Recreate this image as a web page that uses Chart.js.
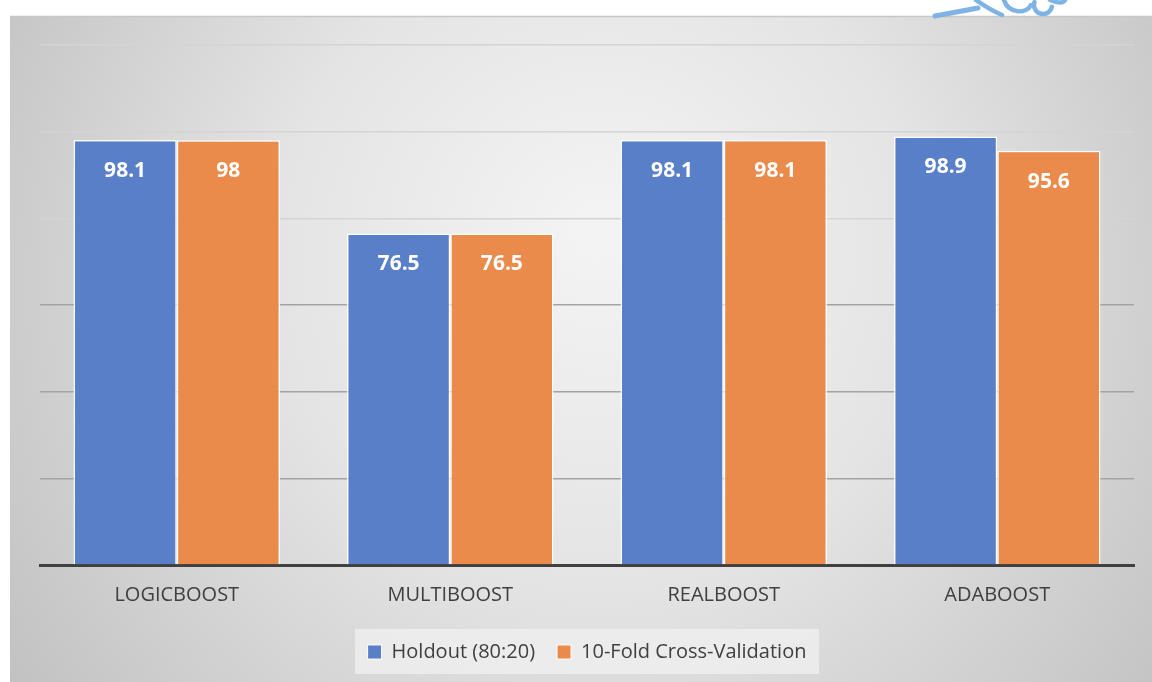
<!DOCTYPE html>
<html>
<head>
<meta charset="utf-8">
<script src="https://cdn.jsdelivr.net/npm/chart.js@4.4.0/dist/chart.umd.min.js"></script>
<style>
  html, body { margin: 0; padding: 0; background: #ffffff; }
  #wrap { width: 1152px; height: 682px; }
</style>
</head>
<body>
<div id="wrap"><canvas id="c" width="1152" height="682"></canvas></div>
<script>
const categories = ['LOGICBOOST', 'MULTIBOOST', 'REALBOOST', 'ADABOOST'];
const holdout = [98.1, 76.5, 98.1, 98.9];
const crossValidation = [98, 76.5, 98.1, 95.6];
const seriesNames = ['Holdout (80:20)', '10-Fold Cross-Validation'];

const FONT = "'Open Sans', 'Liberation Sans', sans-serif";

// Panel background with soft radial shading, plus the blue pen sketch above it
const panelBackground = {
  id: 'panelBackground',
  beforeDraw(chart) {
    const ctx = chart.ctx;
    ctx.save();
    ctx.fillStyle = '#ffffff';
    ctx.fillRect(0, 0, chart.width, chart.height);
    const x0 = 10, y0 = 16, w = chart.width - x0, h = chart.height - y0;
    const g = ctx.createRadialGradient(600, 230, 20, 600, 300, 700);
    g.addColorStop(0, '#f3f3f3');
    g.addColorStop(0.45, '#e4e4e4');
    g.addColorStop(1, '#c2c2c2');
    ctx.fillStyle = g;
    ctx.fillRect(x0, y0, w, h);
    ctx.strokeStyle = '#c8c8c8';
    ctx.lineWidth = 1.5;
    ctx.beginPath();
    ctx.moveTo(x0, y0 + 0.5);
    ctx.lineTo(chart.width, y0 + 0.5);
    ctx.stroke();

    // legend backdrop
    const lg = chart.legend;
    if (lg) {
      ctx.fillStyle = 'rgba(236,236,236,0.95)';
      ctx.fillRect(355, lg.top + 9, 464, 45);
    }
    ctx.restore();
  },
  afterDraw(chart) {
    const ctx = chart.ctx;
    ctx.save();
    ctx.strokeStyle = '#7fb2e5';
    ctx.lineCap = 'round';
    ctx.lineWidth = 5;
    ctx.beginPath();
    ctx.moveTo(935, 16); ctx.lineTo(978, 8);
    ctx.stroke();
    ctx.lineWidth = 4.5;
    ctx.beginPath();
    ctx.moveTo(976, 0); ctx.quadraticCurveTo(990, 10, 1002, 15);
    ctx.stroke();
    ctx.beginPath();
    ctx.moveTo(1004, 0); ctx.bezierCurveTo(1008, 13, 1026, 15, 1031, 5);
    ctx.stroke();
    ctx.beginPath();
    ctx.arc(1043, 5, 9, 0.2, Math.PI * 1.1);
    ctx.stroke();
    ctx.beginPath();
    ctx.moveTo(1050, 0); ctx.quadraticCurveTo(1062, 5, 1065, 0);
    ctx.stroke();
    ctx.restore();
  }
};

// White value labels inside the top of each bar
const valueLabels = {
  id: 'valueLabels',
  afterDatasetsDraw(chart) {
    const ctx = chart.ctx;
    ctx.save();
    ctx.fillStyle = '#ffffff';
    ctx.font = "bold 21px " + FONT;
    ctx.textAlign = 'center';
    ctx.textBaseline = 'middle';
    chart.data.datasets.forEach((ds, i) => {
      chart.getDatasetMeta(i).data.forEach((bar, j) => {
        ctx.fillText(String(ds.data[j]), bar.x, bar.y + 31);
      });
    });
    ctx.restore();
  }
};

new Chart(document.getElementById('c'), {
  type: 'bar',
  data: {
    labels: categories,
    datasets: [
      {
        label: seriesNames[0],
        data: holdout,
        backgroundColor: '#5a7fc9',
        borderColor: 'rgba(255,255,255,0.9)',
        borderWidth: { top: 1.5, left: 1.5, right: 1.5, bottom: 0 },
        categoryPercentage: 0.755,
        barPercentage: 1.0
      },
      {
        label: seriesNames[1],
        data: crossValidation,
        backgroundColor: '#ea8b4b',
        borderColor: 'rgba(255,255,255,0.9)',
        borderWidth: { top: 1.5, left: 1.5, right: 1.5, bottom: 0 },
        categoryPercentage: 0.755,
        barPercentage: 1.0
      }
    ]
  },
  options: {
    responsive: false,
    animation: false,
    layout: { padding: { left: 40, right: 18, top: 45, bottom: 10 } },
    scales: {
      x: {
        grid: { display: false },
        border: { display: true, color: '#404040', width: 3 },
        ticks: { color: '#404040', font: { family: FONT, size: 20 }, padding: 10 },
        afterFit(scale) { scale.height = 55; }
      },
      y: {
        min: 0,
        max: 120,
        ticks: { display: false, stepSize: 20 },
        border: { display: false },
        grid: {
          lineWidth: 1.5,
          drawTicks: false,
          color(ctx) {
            const v = ctx.tick ? ctx.tick.value : 0;
            if (v === 0) return 'rgba(0,0,0,0)';
            return v >= 80 ? '#d4d4d4' : '#a3a3a3';
          }
        },
        afterFit(scale) { scale.width = 0; }
      }
    },
    plugins: {
      legend: {
        position: 'bottom',
        labels: {
          color: '#404040',
          font: { family: FONT, size: 20 },
          boxWidth: 14,
          boxHeight: 14,
          padding: 22
        }
      },
      tooltip: { enabled: false }
    }
  },
  plugins: [panelBackground, valueLabels]
});
</script>
</body>
</html>
